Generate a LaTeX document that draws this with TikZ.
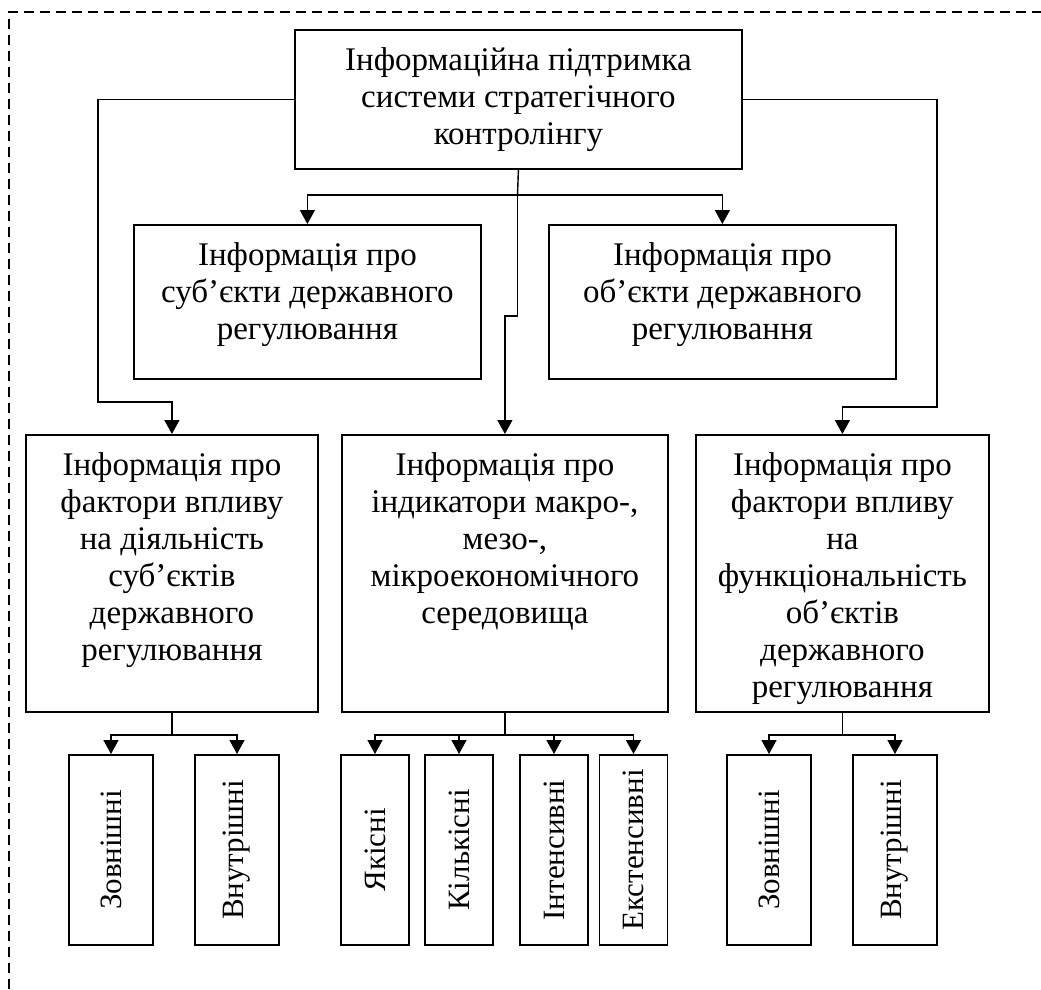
\documentclass[tikz,border=0pt]{standalone}
\usepackage{fontspec}
\setmainfont{Liberation Serif}
\usetikzlibrary{arrows.meta}

\newcommand{\boxtext}[3]{\parbox[t][#2][t]{#1}{\centering\rule{0pt}{41pt}#3}}

\tikzset{
  infobox/.style={draw, line width=1.8pt, inner sep=0pt, anchor=north west,
    font=\fontsize{33}{37}\selectfont},
  kindbox/.style={draw, line width=1.8pt, inner sep=0pt, anchor=north,
    minimum height=190pt, font=\fontsize{31}{37}\selectfont},
  link/.style={line width=1.4pt, -{Triangle[length=14pt,width=15pt]}},
}

\begin{document}
\begin{tikzpicture}[x=1pt, y=-1pt]
                \useasboundingbox (0,0) rectangle (1041,989);
                \draw[line width=1.2pt, dash pattern=on 10pt off 6pt] (9,989) -- (9,12) -- (1041,12);

                \node [infobox] (top) at (294,29) {\boxtext{447pt}{139pt}{Інформаційна підтримка\\системи стратегічного\\контролінгу}};
                \node [infobox] (subj) at (133,224) {\boxtext{347pt}{154pt}{Інформація про\\суб’єкти державного\\регулювання}};
                \node [infobox] (obj) at (548,224) {\boxtext{347pt}{154pt}{Інформація про\\об’єкти державного\\регулювання}};

                \node [infobox] (facA) at (25,434) {\boxtext{292pt}{277pt}{Інформація про\\фактори впливу\\на діяльність\\суб’єктів\\державного\\регулювання}};
                \node [infobox] (ind) at (341,434) {\boxtext{326pt}{277pt}{Інформація про\\індикатори макро-,\\мезо-,\\мікроекономічного\\середовища}};
                \node [infobox] (facC) at (695,434) {\boxtext{293pt}{277pt}{Інформація про\\фактори впливу\\на\\функціональність\\об’єктів\\державного\\регулювання}};

                \node [kindbox, minimum width=84pt] (a1) at (111,754) {\rotatebox{90}{Зовнішні}};
                \node [kindbox, minimum width=84pt] (a2) at (237,754) {\rotatebox{90}{Внутрішні}};
                \node [kindbox, minimum width=68pt] (b1) at (375,754) {\rotatebox{90}{Якісні}};
                \node [kindbox, minimum width=68pt] (b2) at (459,754) {\rotatebox{90}{Кількісні}};
                \node [kindbox, minimum width=68pt] (b3) at (554,754) {\rotatebox{90}{Інтенсивні}};
                \node [kindbox, minimum width=68pt] (b4) at (633.5,754) {\rotatebox{90}{Екстенсивні}};
                \node [kindbox, minimum width=84pt] (c1) at (769,754) {\rotatebox{90}{Зовнішні}};
                \node [kindbox, minimum width=84pt] (c2) at (895,754) {\rotatebox{90}{Внутрішні}};

                \coordinate (split) at (517.5,195);
                \coordinate (lbend) at (98,402);
                \coordinate (rbend) at (937,407);
                \coordinate (mbend) at (517.5,316);

                \draw[line width=1.4pt] (top.south) -- (split);
                \draw[link] (split) -| (subj.north);
                \draw[link] (split) -| (obj.north);
                \draw[link] (split) -- (mbend) -| (ind.north);
                \draw[link] (top.west) -| (lbend) -| (facA.north);
                \draw[link] (top.east) -| (rbend) -| (facC.north);

                \draw[line width=1.4pt] (facA.south) -- ++(0,22) coordinate (ja);
                \draw[link] (ja) -| (a1.north);
                \draw[link] (ja) -| (a2.north);
                \draw[line width=1.4pt] (ind.south) -- ++(0,22) coordinate (jb);
                \draw[link] (jb) -| (b1.north);
                \draw[link] (jb) -| (b2.north);
                \draw[link] (jb) -| (b3.north);
                \draw[link] (jb) -| (b4.north);
                \draw[line width=1.4pt] (facC.south) -- ++(0,22) coordinate (jc);
                \draw[link] (jc) -| (c1.north);
                \draw[link] (jc) -| (c2.north);
\end{tikzpicture}
\end{document}
